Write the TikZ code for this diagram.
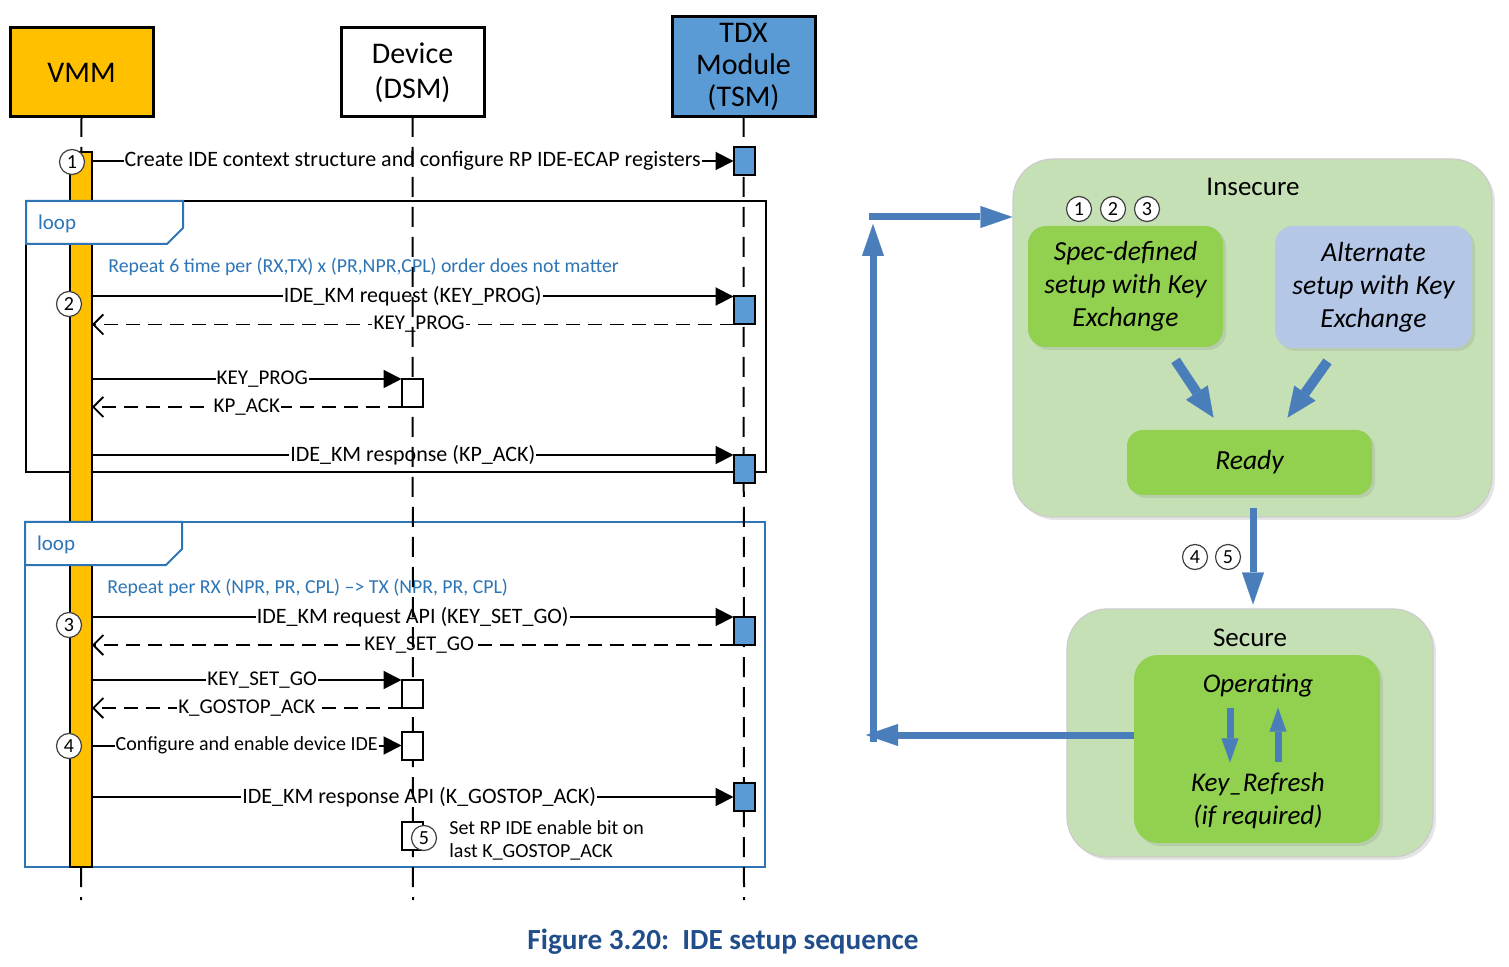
\documentclass[tikz,border=0pt]{standalone}
\usepackage{fontspec}
\setmainfont{Carlito}
\usetikzlibrary{arrows.meta,shadows,calc}
\definecolor{vmmorange}{RGB}{255,192,0}
\definecolor{tdxblue}{RGB}{91,155,213}
\definecolor{loopblue}{RGB}{46,117,182}
\definecolor{zonegreen}{RGB}{197,224,180}
\definecolor{boxgreen}{RGB}{146,208,80}
\definecolor{boxblue}{RGB}{180,199,231}
\definecolor{arrowblue}{RGB}{74,126,187}
\definecolor{capblue}{RGB}{33,78,138}
\newcommand\mymsgfont{\fontsize{10.5}{12}\selectfont}
\newcommand\mylongfont{\fontsize{11}{12}\selectfont}
\begin{document}
\begin{tikzpicture}[x=0.5pt,y=-0.5pt,
  head/.style={draw=black, line width=1.5pt, minimum width=71.5pt, inner sep=0pt, outer sep=0pt, align=center, font=\fontsize{15}{17.5}\selectfont},
  life/.style={line width=1pt, dash pattern=on 10pt off 5pt},
  tact/.style={draw=black, line width=1pt, fill=tdxblue, minimum width=10.5pt, minimum height=14pt, inner sep=0pt, outer sep=0pt},
  dact/.style={tact, fill=white},
  msg/.style={line width=1pt, -{Triangle[length=9pt,width=9pt]}},
  ret/.style={line width=0.9pt, dash pattern=on 7pt off 4pt, -{Straight Barb[length=5pt,width=10pt]}},
  lbl/.style={fill=white, inner sep=0.6pt, font=\mymsgfont},
  lbll/.style={lbl, font=\mylongfont},
  num/.style={circle, draw=black!75, fill=white, line width=0.6pt, minimum size=12.5pt, inner sep=0pt, font=\fontsize{10}{10}\selectfont},
  zone/.style={draw=black!20, line width=0.6pt, fill=zonegreen, rounded corners=20pt, inner sep=0pt, drop shadow={shadow xshift=1.5pt, shadow yshift=-1.5pt, opacity=0.2}},
  sbox/.style={rounded corners=9pt, inner sep=0pt, align=center, font=\itshape\fontsize{13.8}{16.5}\selectfont, drop shadow={shadow xshift=1.5pt, shadow yshift=-1.5pt, opacity=0.2}},
  fat/.style={draw=arrowblue, line width=3.5pt, -{Triangle[length=16pt,width=11pt,line width=0.1pt]}},
  small fat/.style={draw=arrowblue, line width=3.5pt, -{Triangle[length=12pt,width=8.5pt,line width=0.1pt]}},
  diag fat/.style={draw=arrowblue, line width=5pt, -{Triangle[length=15pt,width=13pt,line width=0.1pt]}},
  rtext/.style={anchor=west, text=loopblue, font=\fontsize{9.9}{11}\selectfont, inner sep=0pt}
]
\useasboundingbox (0,0) rectangle (1509,967);
\fill[white] (0,0) rectangle (1509,967);

% ---------- headers ----------
\node[head, fill=vmmorange, minimum height=44.5pt] (vmm) at (81.5,72.5) {VMM};
\node[head, fill=white, minimum height=44.5pt] (dev) at (412.5,72.5) {Device\\(DSM)};
\node[head, fill=tdxblue, minimum height=50pt, font=\fontsize{15}{16}\selectfont] (tdx) at (743.5,67) {TDX\\Module\\(TSM)};

\coordinate (vmmend) at (81,900);
\coordinate (devend) at (413,900);
\coordinate (tdxend) at (744,900);

% ---------- loop frames ----------
\draw[line width=0.8pt] (26,201) rectangle (766,472);
\draw[loopblue, line width=1pt] (25,522) rectangle (765,867);

% VMM lifeline and bar
\draw[life] (vmm.south) -- (vmmend);
\node[draw=black, line width=1pt, fill=vmmorange, minimum width=11pt, minimum height=357.5pt, inner sep=0pt, outer sep=0pt] (vbar) at (81,509.5) {};

% loop tabs
\draw[loopblue, line width=1pt, fill=white] (26,201) -- (183,201) -- (183,228) -- (167,244) -- (26,244) -- cycle;
\node[anchor=west, text=loopblue, font=\fontsize{10.5}{12}\selectfont] (loopa) at (31,224) {loop};
\draw[loopblue, line width=1pt, fill=white] (25,522) -- (182,522) -- (182,549) -- (166,565) -- (25,565) -- cycle;
\node[anchor=west, text=loopblue, font=\fontsize{10.5}{12}\selectfont] (loopb) at (30,545) {loop};

\node[rtext] (rep1) at (108,267) {Repeat 6 time per (RX,TX) x (PR,NPR,CPL) order does not matter};
\node[rtext] (rep2) at (107,588) {Repeat per RX (NPR, PR, CPL) --> TX (NPR, PR, CPL)};

% activation box positions (coordinates only, boxes drawn later)
\path (744,161) node[tact, draw=none, fill=none] (t1) {}
      (744,310.5) node[tact, draw=none, fill=none] (t2) {}
      (744,469) node[tact, draw=none, fill=none] (t3) {}
      (744,631) node[tact, draw=none, fill=none] (t4) {}
      (744,797) node[tact, draw=none, fill=none] (t5) {}
      (412,393) node[tact, draw=none, fill=none] (d1) {}
      (412,694) node[tact, draw=none, fill=none] (d2) {}
      (412,745.5) node[tact, draw=none, fill=none] (d3) {}
      (412,836) node[tact, draw=none, fill=none] (d4) {};

% ---------- messages ----------
\draw[msg] (vbar.east |- t1.west) -- (t1.west) node[lbll, midway] {Create IDE context structure and configure RP IDE-ECAP registers};
\draw[msg] (vbar.east |- t2.north west) -- (t2.north west) node[lbll, midway] {IDE\_KM request (KEY\_PROG)};
\draw[ret] (t2.south west) -- (vbar.east |- t2.south west) node[lbl, pos=0.49] {KEY\_PROG};
\draw[msg] (vbar.east |- d1.north west) -- (d1.north west) node[lbl, pos=0.55] {KEY\_PROG};
\draw[ret] (d1.south west) -- (vbar.east |- d1.south west) node[lbl, pos=0.5] {KP\_ACK};
\draw[msg] (vbar.east |- t3.north west) -- (t3.north west) node[lbll, midway] {IDE\_KM response (KP\_ACK)};

\draw[msg] (vbar.east |- t4.north west) -- (t4.north west) node[lbll, midway] {IDE\_KM request API (KEY\_SET\_GO)};
\draw[ret] (t4.south west) -- (vbar.east |- t4.south west) node[lbl, pos=0.49] {KEY\_SET\_GO};
\draw[msg] (vbar.east |- d2.north west) -- (d2.north west) node[lbl, pos=0.55] {KEY\_SET\_GO};
\draw[ret] (d2.south west) -- (vbar.east |- d2.south west) node[lbl, pos=0.5] {K\_GOSTOP\_ACK};
\draw[msg] (vbar.east |- d3.west) -- (d3.west) node[lbl, midway, font=\fontsize{10}{12}\selectfont] {Configure and enable device IDE};
\draw[msg] (vbar.east |- t5.west) -- (t5.west) node[lbll, pos=0.51] {IDE\_KM response API (K\_GOSTOP\_ACK)};

% other lifelines
\draw[life] (dev.south) -- (devend);
\draw[life] (tdx.south) -- (tdxend);

% activation boxes
\foreach \n in {t1,t2,t3,t4,t5} \node[tact] at (\n) {};
\foreach \n in {d1,d2,d3,d4} \node[dact] at (\n) {};

\node[anchor=west, align=left, inner sep=0pt, font=\fontsize{10}{11.5}\selectfont] (note5) at (449,840) {Set RP IDE enable bit on\\last K\_GOSTOP\_ACK};

% numbered circles
\node[num] (c1) at (72,162) {1};
\node[num] (c2) at (69,304) {2};
\node[num] (c3) at (69,625) {3};
\node[num] (c4) at (69,746) {4};
\node[num] (c5) at (424,838) {5};

% ---------- right side ----------
\node[zone, minimum width=239.5pt, minimum height=179pt] (ins) at (1252.5,338) {};
\node[font=\fontsize{13.5}{15}\selectfont] (inst) at (1253,187) {Insecure};
\node[num] (r1) at (1079,209) {1};
\node[num] (r2) at (1113,209) {2};
\node[num] (r3) at (1147,209) {3};
\node[sbox, fill=boxgreen, minimum width=97.5pt, minimum height=60.5pt] (spec) at (1125.5,286.5) {Spec-defined\\setup with Key\\Exchange};
\node[sbox, fill=boxblue, minimum width=98.5pt, minimum height=61pt] (alt) at (1373.5,287) {Alternate\\setup with Key\\Exchange};
\node[sbox, rounded corners=8pt, fill=boxgreen, minimum width=122.5pt, minimum height=32.5pt] (ready) at (1249.5,462.5) {Ready};

\draw[diag fat] ($(spec.south)+(50,13)$) -- ($(ready.north)+(-36,-12)$);
\draw[diag fat] ($(alt.south)+(-46,13)$) -- ($(ready.north)+(38,-12)$);

\node[zone, minimum width=183pt, minimum height=124pt] (sec) at (1250,733) {};
\node[font=\fontsize{13.5}{15}\selectfont] (sect) at (1250,638) {Secure};
\node[sbox, rounded corners=12pt, fill=boxgreen, minimum width=123pt, minimum height=94pt] (op) at (1257,749) {};
\node[font=\itshape\fontsize{13.5}{15}\selectfont] (opt) at (1258,685) {Operating};
\node[font=\itshape\fontsize{13.5}{15}\selectfont] (krt) at (1258,784) {Key\_Refresh};
\node[font=\itshape\fontsize{13.5}{15}\selectfont] (ift) at (1258,817) {(if required)};
\draw[small fat] ($(opt.south)+(-28,4)$) -- ($(krt.north)+(-28,-3)$);
\draw[small fat] ($(krt.north)+(20,-3)$) -- ($(opt.south)+(20,4)$);

\draw[fat] ($(ready.south)+(3.5,13)$) -- ($(sec.north)+(3,-4)$);
\node[num] (r4) at (1195,557) {4};
\node[num] (r5) at (1228,557) {5};

% loop-back arrows
\coordinate (lb) at (866,735);
\coordinate (lv) at (873,742);
\coordinate (lt) at (873,224);
\coordinate (ls) at (869,217);
\draw[fat] (op.west |- lb) -- (lb);
\draw[fat] (lv) -- (lt);
\draw[fat] (ls) -- (ins.west |- ls);

% caption
\node[font=\bfseries\fontsize{14.6}{17}\selectfont, text=capblue] (cap) at (723,942) {Figure 3.20:\ \ IDE setup sequence};
\end{tikzpicture}
\end{document}
